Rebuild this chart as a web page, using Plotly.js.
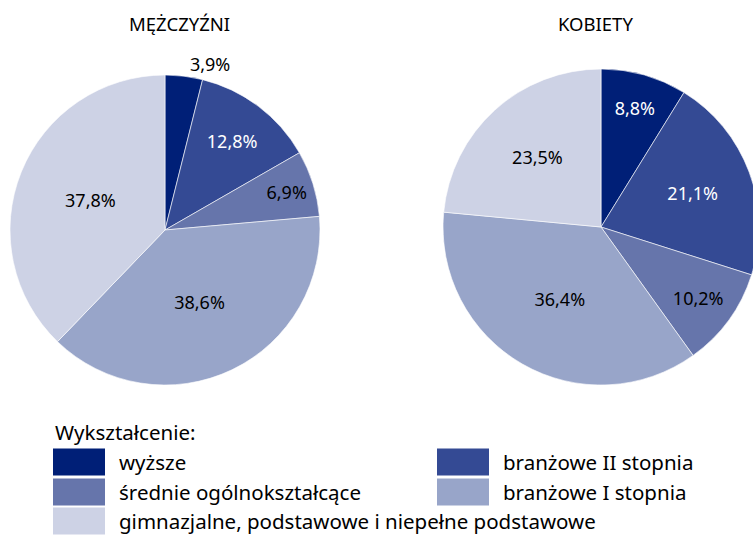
<!DOCTYPE html>
<html>
<head>
<meta charset="utf-8">
<script src="https://cdn.plot.ly/plotly-3.0.1.min.js"></script>
<style>
html,body{margin:0;padding:0;overflow:hidden;background:#fff;width:753px;height:537px;}
#chart{width:770px;height:537px;}
</style>
</head>
<body>
<div id="chart"></div>
<script>
// ---- data ----
const categories = ['wyższe', 'branżowe II stopnia', 'średnie ogólnokształcące', 'branżowe I stopnia', 'gimnazjalne, podstawowe i niepełne podstawowe'];
const menValues = [3.9, 12.8, 6.9, 38.6, 37.8];
const womenValues = [8.8, 21.1, 10.2, 36.4, 23.5];
const colors = ['#001f77', '#344a94', '#6675ab', '#98a5c9', '#cdd2e5'];
const textColors = ['#ffffff', '#ffffff', '#000000', '#000000', '#000000'];
const pieTitles = ['MĘŻCZYŹNI', 'KOBIETY'];
const legendTitle = 'Wykształcenie:';

// ---- layout constants ----
const W = 770, H = 537;
const FONT = 'Noto Sans, sans-serif';
const px = x => x / W;
const py = y => 1 - y / H;
const fmt = v => v.toFixed(1).replace('.', ',') + '%';

function pieTrace(values, dom, positions) {
  return {
    type: 'pie',
    labels: categories,
    values: values,
    text: values.map(fmt),
    textinfo: 'text',
    textposition: positions,
    insidetextorientation: 'horizontal',
    sort: false,
    direction: 'clockwise',
    rotation: 0,
    marker: {colors: colors, line: {color: '#ffffff', width: 0.6}},
    textfont: {family: FONT, size: 18, color: textColors},
    outsidetextfont: {family: FONT, size: 18, color: '#000'},
    domain: dom,
    hoverinfo: 'none',
    showlegend: false
  };
}

const data = [
  pieTrace(menValues, {x: [px(10), px(320)], y: [py(385), py(75)]}, ['outside', 'inside', 'inside', 'inside', 'inside']),
  pieTrace(womenValues, {x: [px(443), px(759)], y: [py(385), py(69)]}, ['inside', 'inside', 'inside', 'inside', 'inside'])
];

const annotations = [
  {text: pieTitles[0], x: px(179), y: py(23), xref: 'paper', yref: 'paper', showarrow: false, xanchor: 'center', yanchor: 'middle', font: {family: FONT, size: 18.5, color: '#000'}},
  {text: pieTitles[1], x: px(595), y: py(23), xref: 'paper', yref: 'paper', showarrow: false, xanchor: 'center', yanchor: 'middle', font: {family: FONT, size: 18.5, color: '#000'}},
  {text: legendTitle, x: px(53), y: py(432), xref: 'paper', yref: 'paper', showarrow: false, xanchor: 'left', yanchor: 'middle', font: {family: FONT, size: 20.5, color: '#000'}}
];
const shapes = [];
const colX = [53, 437];
const rowY = [462, 492, 521];
categories.forEach((c, i) => {
  const col = i % 2, row = Math.floor(i / 2);
  const x0 = colX[col], yc = rowY[row];
  shapes.push({type: 'rect', xref: 'paper', yref: 'paper', x0: px(x0), x1: px(x0 + 52), y0: py(yc + 13.5), y1: py(yc - 13.5), fillcolor: colors[i], line: {width: 0}});
  annotations.push({text: c, x: px(x0 + 64), y: py(yc), xref: 'paper', yref: 'paper', showarrow: false, xanchor: 'left', yanchor: 'middle', font: {family: FONT, size: 20.5, color: '#000'}});
});

const layout = {
  width: W, height: H,
  margin: {l: 0, r: 0, t: 0, b: 0},
  paper_bgcolor: '#fff',
  showlegend: false,
  annotations: annotations,
  shapes: shapes
};

Plotly.newPlot('chart', data, layout, {displayModeBar: false, staticPlot: true});
</script>
</body>
</html>
